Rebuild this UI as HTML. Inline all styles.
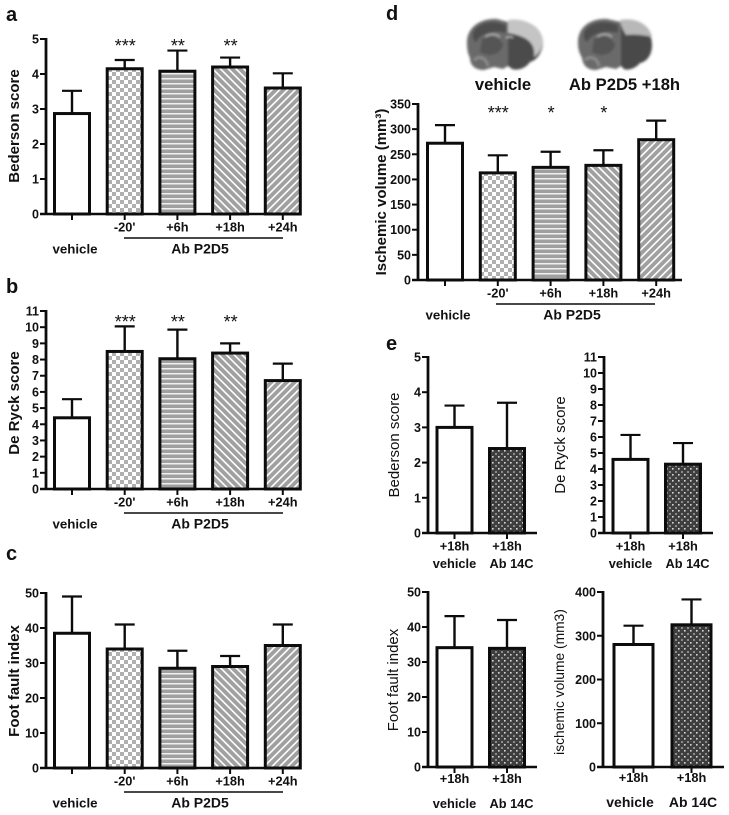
<!DOCTYPE html>
<html lang="en">
<head>
<meta charset="utf-8">
<title>Behavioural scores and ischemic volume</title>
<style>
html,body{margin:0;padding:0;background:#fff;}
body{width:729px;height:815px;overflow:hidden;}
svg{display:block;font-family:"Liberation Sans",Arial,sans-serif;}
text{fill:#111;}
.tick{font-size:12.5px;font-weight:bold;}
.title{font-size:15px;font-weight:bold;}
.cat{font-size:12.8px;font-weight:bold;}
.letter{font-size:20px;font-weight:bold;}
.star{font-size:18px;}
</style>
</head>
<body>
<svg id="figure" xmlns="http://www.w3.org/2000/svg" width="729" height="815" viewBox="0 0 729 815">
<defs>
<pattern id="p-check" width="8" height="8" patternUnits="userSpaceOnUse"><rect width="8" height="8" fill="#fff"/><rect width="4" height="4" fill="#b0b0b0"/><rect x="4" y="4" width="4" height="4" fill="#b0b0b0"/></pattern>
<pattern id="p-horiz" width="5" height="5" patternUnits="userSpaceOnUse"><rect width="5" height="5" fill="#a0a0a0"/><rect y="3" width="5" height="1.5" fill="#f0f0f0"/></pattern>
<pattern id="p-down" width="5.5" height="5.5" patternUnits="userSpaceOnUse" patternTransform="rotate(45)"><rect width="5.5" height="5.5" fill="#a0a0a0"/><rect y="2" width="5.5" height="1.6" fill="#fff"/></pattern>
<pattern id="p-up" width="5.5" height="5.5" patternUnits="userSpaceOnUse" patternTransform="rotate(-45)"><rect width="5.5" height="5.5" fill="#a0a0a0"/><rect y="2" width="5.5" height="1.6" fill="#fff"/></pattern>
<pattern id="p-dots" width="6" height="6" patternUnits="userSpaceOnUse"><rect width="6" height="6" fill="#3e3e3e"/><rect x="0" y="0" width="1.6" height="1.6" fill="#d8d8d8"/><rect x="3" y="3" width="2" height="2" fill="#8a8a8a"/></pattern>
<filter id="soft" x="-10%" y="-10%" width="120%" height="120%"><feGaussianBlur stdDeviation="1.2"/></filter>
</defs>

<g filter="url(#soft)">
  <path d="M467 44 C466 28 480 18 497 19 L508 22 L508 66 L503 69 L494 67 L484 70 C476 70 470 66 470 58 C468 54 467 50 467 44Z" fill="#6a6a6a"/>
  <path d="M508 22 C530 17 544 30 543 45 C541 54 537 60 530 62 C526 68 518 71 512 69 L508 66Z" fill="#4c4c4c"/>
  <path d="M508 20 C526 17 544 28 543 44 C541 50 538 54 534 57 C536 44 528 36 508 33Z" fill="#c4c4c4"/>
  <path d="M474 30 C482 21 495 20 506 25 L506 33 C495 30 482 32 476 42 C472 40 472 34 474 30Z" fill="#4e4e4e"/>
  <path d="M482 39 C490 34 498 36 503 44 C502 54 490 58 480 52Z" fill="#555"/>
  <path d="M485 37 C491 33 497 34 500 37" fill="none" stroke="#ccc" stroke-width="1"/>
  <path d="M506 38 C509 36 511 36 513 38" fill="none" stroke="#ddd" stroke-width="1"/>
  <path d="M474 60 C480 55 486 58 488 66" fill="none" stroke="#909090" stroke-width="2.5"/>
</g>
<g filter="url(#soft)">
  <path d="M578 44 C577 28 590 18 607 19 L621 22 L621 66 L616 69 L606 67 L596 70 C588 70 583 66 582 58 C580 54 578 50 578 44Z" fill="#6a6a6a"/>
  <path d="M621 22 C640 18 652 30 652 45 C652 56 646 62 640 63 C636 68 628 71 624 69 L621 66Z" fill="#484848"/>
  <path d="M620 20 C638 17 650 26 652 37 C644 35 634 34 626 35 C623 30 621 26 620 20Z" fill="#b8b8b8"/>
  <path d="M585 30 C593 21 606 20 618 25 L618 33 C606 30 593 32 587 42 C583 40 583 34 585 30Z" fill="#4e4e4e"/>
  <path d="M594 39 C602 34 610 36 615 44 C614 54 602 58 592 52Z" fill="#555"/>
  <path d="M597 37 C603 33 609 34 612 37" fill="none" stroke="#ccc" stroke-width="1"/>
  <path d="M585 60 C591 55 597 58 599 66" fill="none" stroke="#909090" stroke-width="2.5"/>
</g>

<text class="letter" x="6" y="21">a</text>
<text class="letter" x="6" y="293">b</text>
<text class="letter" x="6" y="560">c</text>
<text class="letter" x="386" y="20">d</text>
<text class="letter" x="386" y="350">e</text>
<text x="503" y="90" text-anchor="middle" style="font-size:16.6px;font-weight:bold">vehicle</text>
<text x="624.5" y="90" text-anchor="middle" style="font-size:16.6px;font-weight:bold">Ab P2D5 +18h</text>
</svg>

<script>
/* ---- data ---- */
const mainCategories = ["vehicle", "-20'", "+6h", "+18h", "+24h"];
const pairCategories = ["vehicle", "Ab 14C"];

const aValues = [2.87, 4.15, 4.08, 4.2, 3.6];
const aErrorTops = [3.52, 4.4, 4.67, 4.47, 4.02];
const aTicks = [0, 1, 2, 3, 4, 5];
const aStars = ["", "***", "**", "**", ""];

const bValues = [4.4, 8.5, 8.05, 8.4, 6.7];
const bErrorTops = [5.55, 10.05, 9.85, 9.0, 7.75];
const bTicks = [0, 1, 2, 3, 4, 5, 6, 7, 8, 9, 10, 11];
const bStars = ["", "***", "**", "**", ""];

const cValues = [38.5, 34, 28.5, 29, 35];
const cErrorTops = [49, 41, 33.5, 32, 41];
const cTicks = [0, 10, 20, 30, 40, 50];
const cStars = ["", "", "", "", ""];

const dValues = [272, 213, 224, 228, 279];
const dErrorTops = [308, 248, 255, 258, 317];
const dTicks = [0, 50, 100, 150, 200, 250, 300, 350];
const dStars = ["", "***", "*", "*", ""];

const e1Values = [3.0, 2.4];
const e1ErrorTops = [3.62, 3.7];
const e1Ticks = [0, 1, 2, 3, 4, 5];

const e2Values = [4.6, 4.3];
const e2ErrorTops = [6.13, 5.62];
const e2Ticks = [0, 1, 2, 3, 4, 5, 6, 7, 8, 9, 10, 11];

const e3Values = [34.1, 33.9];
const e3ErrorTops = [43.1, 42];
const e3Ticks = [0, 10, 20, 30, 40, 50];

const e4Values = [280, 325];
const e4ErrorTops = [323, 383];
const e4Ticks = [0, 100, 200, 300, 400];

/* ---- drawing ---- */
const NS = 'http://www.w3.org/2000/svg';
const svg = document.getElementById('figure');

function mk(tag, attrs, parent) {
  const node = document.createElementNS(NS, tag);
  for (const k in attrs) node.setAttribute(k, attrs[k]);
  parent.appendChild(node);
  return node;
}
function label(parent, x, y, str, cls, anchor) {
  const t = mk('text', { x: x, y: y, class: cls, 'text-anchor': anchor || 'middle' }, parent);
  t.textContent = str;
  return t;
}

function drawPanel(o) {
  const g = mk('g', {}, svg);
  
  

  const top = o.ticks[o.ticks.length - 1];
  const yScale = v => o.y0 - (v / top) * (o.y0 - o.yTop);
  const xLeft = i => o.firstBar + i * o.step;
  const xCentre = i => xLeft(i) + o.barW / 2;

  o.values.forEach((v, i) => {
    const y = yScale(v);
    const tipY = yScale(o.errors[i]);
    const cx = xCentre(i);

    const stem = mk('line', { x1: cx, x2: cx, y1: tipY, y2: y, stroke: '#0c0c0c', 'stroke-width': 2.4 }, g);
    
    

    const cap = mk('line', { x1: cx - 10, x2: cx + 10, y1: tipY, y2: tipY, stroke: '#0c0c0c', 'stroke-width': 2.2 }, g);
    
    

    const bar = mk('rect', { x: xLeft(i), y: y, width: o.barW, height: o.y0 - y, fill: o.fills[i], stroke: '#0c0c0c', 'stroke-width': 3 }, g);
    
    
  });

  const yAxis = mk('line', { x1: o.axisX, x2: o.axisX, y1: o.yTop - 1, y2: o.y0 + 1, stroke: '#0c0c0c', 'stroke-width': 2.8 }, g);
  
  

  const xAxis = mk('line', { x1: o.axisX - 6, x2: o.xEnd, y1: o.y0, y2: o.y0, stroke: '#0c0c0c', 'stroke-width': 2.4 }, g);
  
  

  o.ticks.forEach(t => {
    const y = yScale(t);
    const tick = mk('line', { x1: o.axisX - 6, x2: o.axisX, y1: y, y2: y, stroke: '#0c0c0c', 'stroke-width': 2 }, g);
    
    
    const tl = label(g, o.axisX - 7, y + 4.5, String(t), 'tick', 'end');
    
    
  });

  const title = label(g, 0, 0, o.title, 'title');
  title.setAttribute('transform', 'translate(' + o.titleX + ',' + o.titleY + ') rotate(-90)');
  if (o.titleWeight) title.style.fontWeight = o.titleWeight;
  if (o.titleSize) title.style.fontSize = o.titleSize + 'px';
  
  

  o.xTicks.forEach((str, i) => {
    const cx = xCentre(i);
    const xt = mk('line', { x1: cx, x2: cx, y1: o.y0, y2: o.y0 + 6, stroke: '#0c0c0c', 'stroke-width': 2 }, g);
    
    
    if (str) {
      const xl = label(g, cx, o.y0 + (o.xLabelDy || 17.5), str, 'cat');
      
      
    }
  });

  (o.stars || []).forEach((s, i) => {
    if (!s) return;
    const st = label(g, xCentre(i) + 0.5, o.starY, s, 'star');
    
    
  });

  if (o.group) {
    const br = mk('line', { x1: o.group.x1, x2: o.group.x2, y1: o.y0 + 24, y2: o.y0 + 24, stroke: '#0c0c0c', 'stroke-width': 1.4 }, g);
    
    
    const gl = label(g, o.group.tx, o.y0 + 39.5, 'Ab P2D5', 'cat');
    gl.style.fontSize = '14px';
    
    
    const vl = label(g, o.group.vx, o.y0 + 39.5, 'vehicle', 'cat');
    vl.style.fontSize = '13.3px';
    
    
  }

  if (o.pairLabels) {
    o.pairLabels.forEach((str, i) => {
      const pl = label(g, xCentre(i) + o.pairOffsets[i], o.pairY, str, 'cat');
      if (o.pairSize) pl.style.fontSize = o.pairSize + 'px';
      
      
    });
  }
}

const mainFills = ['#fff', 'url(#p-check)', 'url(#p-horiz)', 'url(#p-down)', 'url(#p-up)'];
const pairFills = ['#fff', 'url(#p-dots)'];
const mainX = ['', "-20'", '+6h', '+18h', '+24h'];
const pairX = ['+18h', '+18h'];

drawPanel({ name: 'panel-a', title: 'Bederson score', values: aValues, errors: aErrorTops, ticks: aTicks, stars: aStars, fills: mainFills, xTicks: mainX,
  y0: 214, yTop: 39, axisX: 46, xEnd: 300, firstBar: 54.5, step: 52.7, barW: 35, titleX: 19, titleY: 126, starY: 52,
  group: { x1: 124, x2: 283, tx: 200, vx: 75 } });

drawPanel({ name: 'panel-b', title: 'De Ryck score', values: bValues, errors: bErrorTops, ticks: bTicks, stars: bStars, fills: mainFills, xTicks: mainX,
  y0: 489, yTop: 311, axisX: 46, xEnd: 300, firstBar: 54.5, step: 52.7, barW: 35, titleX: 19, titleY: 403, starY: 328,
  group: { x1: 124, x2: 283, tx: 200, vx: 75 } });

drawPanel({ name: 'panel-c', title: 'Foot fault index', values: cValues, errors: cErrorTops, ticks: cTicks, stars: cStars, fills: mainFills, xTicks: mainX,
  y0: 768, yTop: 593, axisX: 46, xEnd: 300, firstBar: 54.5, step: 52.7, barW: 35, titleX: 19, titleY: 681,
  group: { x1: 124, x2: 283, tx: 200, vx: 75 } });

drawPanel({ name: 'panel-d', title: 'Ischemic volume (mm³)', values: dValues, errors: dErrorTops, ticks: dTicks, stars: dStars, fills: mainFills, xTicks: mainX,
  y0: 280, yTop: 104, axisX: 418, xEnd: 682, firstBar: 427.5, step: 52.8, barW: 35, titleX: 386, titleY: 192, starY: 119,
  group: { x1: 496, x2: 655, tx: 572, vx: 448 } });

drawPanel({ name: 'panel-e-bederson', title: 'Bederson score', values: e1Values, errors: e1ErrorTops, ticks: e1Ticks, fills: pairFills, xTicks: pairX,
  y0: 533, yTop: 357, axisX: 428, xEnd: 537, firstBar: 437, step: 52.5, barW: 35, titleX: 399, titleY: 445, titleWeight: 'normal', titleSize: 15,
  pairLabels: pairCategories, pairOffsets: [0, 4.5], pairY: 568 });

drawPanel({ name: 'panel-e-de-ryck', title: 'De Ryck score', values: e2Values, errors: e2ErrorTops, ticks: e2Ticks, fills: pairFills, xTicks: pairX,
  y0: 533, yTop: 357, axisX: 604, xEnd: 713, firstBar: 613, step: 52.5, barW: 35, titleX: 565, titleY: 445, titleWeight: 'normal', titleSize: 15,
  pairLabels: pairCategories, pairOffsets: [0, 4.5], pairY: 568 });

drawPanel({ name: 'panel-e-foot-fault', title: 'Foot fault index', values: e3Values, errors: e3ErrorTops, ticks: e3Ticks, fills: pairFills, xTicks: pairX, xLabelDy: 16,
  y0: 767, yTop: 592, axisX: 428, xEnd: 537, firstBar: 437, step: 52.5, barW: 35, titleX: 398, titleY: 680, titleWeight: 'normal', titleSize: 15,
  pairLabels: pairCategories, pairOffsets: [0, 4.5], pairY: 808 });

drawPanel({ name: 'panel-e-ischemic', title: 'ischemic volume (mm3)', values: e4Values, errors: e4ErrorTops, ticks: e4Ticks, fills: pairFills, xTicks: pairX, xLabelDy: 15,
  y0: 767, yTop: 592, axisX: 603, xEnd: 724, firstBar: 614, step: 58, barW: 39, titleX: 564, titleY: 682, titleWeight: 'normal', titleSize: 13.8,
  pairLabels: pairCategories, pairOffsets: [-3.5, 1.5], pairY: 807, pairSize: 14 });
</script>
</body>
</html>
